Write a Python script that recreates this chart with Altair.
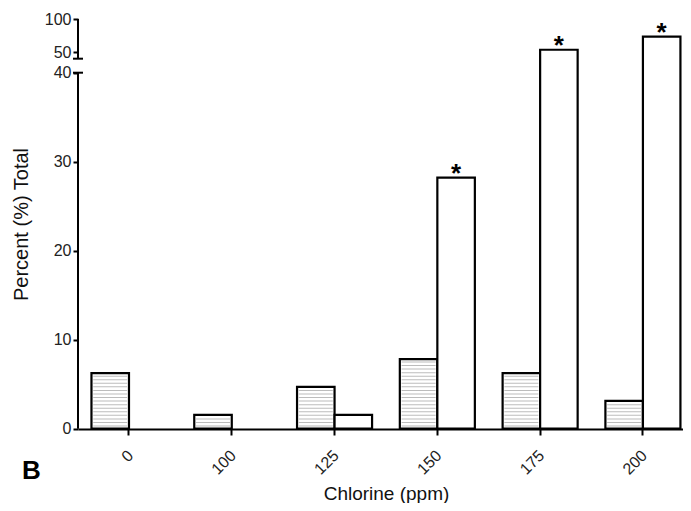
import altair as alt
import pandas as pd

# ---- data ----
chlorine = ["0", "100", "125", "150", "175", "200"]
series_names = ["Hatched", "Open"]
hatched_values = [6.25, 1.56, 4.69, 7.81, 6.25, 3.13]
open_values = [0.0, 0.0, 1.56, 28.2, 54.0, 73.5]
open_marks = ["", "", "", "*", "*", "*"]
y_tick_values = [0, 10, 20, 30, 40, 50, 100]
axis_low = [0, 40]          # lower y-axis segment
axis_high = [46.9, 100]     # upper y-axis segment (after the break)
panel_label = ["B"]

rows = []
for c, h, o, m in zip(chlorine, hatched_values, open_values, open_marks):
    rows.append({"chlorine": c, "series": series_names[0], "value": h, "mark": ""})
    rows.append({"chlorine": c, "series": series_names[1], "value": o, "mark": m})
df = pd.DataFrame(rows)

axis_df = pd.DataFrame({"y": [axis_low[0], axis_high[0]], "y2": [axis_low[1], axis_high[1]]})
cap_df = pd.DataFrame({"y": [axis_low[1], axis_high[0]]})
label_df = pd.DataFrame({"label": panel_label})

W, H = 605, 410
FONT = "Liberation Sans"

# broken (piecewise) y scale: 0-40 lower part, 50-100 compressed upper part
y_scale = alt.Scale(domain=[0, 40, 50, 100], range=[409.7, 53.7, 33.4, 0], zero=False, nice=False)
x_scale = alt.Scale(domain=chlorine, paddingInner=0.27, paddingOuter=0.078, align=0.84)
off_scale = alt.Scale(domain=series_names, paddingInner=0, paddingOuter=0)

x_axis = alt.Axis(
    labelAngle=-45, labelFontSize=16, labelColor="#222", labelPadding=12, labelOffset=-4,
    tickSize=6, tickWidth=2, tickColor="black",
    domainColor="black", domainWidth=2, grid=False,
    title="Chlorine (ppm)", titleFontSize=19, titleFontWeight="normal",
    titleColor="#111", titleX=308, titleAlign="center", titleY=70, titleBaseline="alphabetic",
)
y_axis = alt.Axis(
    values=y_tick_values, domain=False, grid=False,
    tickSize=5, tickWidth=2, tickColor="black",
    labelFontSize=16, labelColor="#222", labelPadding=2,
    title="Percent (%) Total", titleFontSize=20, titleFontWeight="normal",
    titleColor="#111", titleX=-57, titleY=205, titleAngle=270,
    titleAlign="center", titleBaseline="middle",
)

def xe():
    return alt.X("chlorine:N", sort=chlorine, scale=x_scale, axis=x_axis)

def ye(field):
    return alt.Y(field, scale=y_scale, axis=y_axis)

xoff = alt.XOffset("series:N", sort=series_names, scale=off_scale)

bars = alt.Chart(df).transform_filter("datum.value > 0").mark_bar(
    fill="white", stroke="black", strokeWidth=2.2
).encode(x=xe(), xOffset=xoff, y=ye("value:Q"))

stripes = alt.Chart(df).transform_filter(
    f"datum.series == '{series_names[0]}'"
).transform_calculate(
    stripe="sequence(0.3, datum.value - 0.15, 0.4)"
).transform_flatten(["stripe"]).mark_tick(
    color="#a0a0a0", thickness=1, size=34
).encode(x=xe(), xOffset=xoff, y=ye("stripe:Q"))

stars = alt.Chart(df).transform_filter("datum.mark != ''").mark_text(
    fontSize=26, fontWeight="bold", baseline="alphabetic", dy=4, color="black"
).encode(x=xe(), xOffset=xoff, y=ye("value:Q"), text="mark:N")

axis_line = alt.Chart(axis_df).mark_rule(color="black", strokeWidth=2).encode(
    x=alt.value(0), y=ye("y:Q"), y2="y2:Q",
)

caps = alt.Chart(cap_df).mark_rule(color="black", strokeWidth=2).encode(
    x=alt.value(-5), x2=alt.value(5), y=ye("y:Q"),
)

letter = alt.Chart(label_df).mark_text(
    fontSize=26, fontWeight="bold", align="left", baseline="alphabetic", color="black"
).encode(x=alt.value(-56), y=alt.value(460), text="label:N")

chart = alt.layer(bars, stripes, axis_line, caps, stars, letter).properties(
    width=W, height=H,
    padding={"left": 70, "top": 11, "right": 0, "bottom": 74},
    autosize=alt.AutoSizeParams(type="none"),
).configure(font=FONT).configure_view(stroke="transparent")

chart.save("out.html", embed_options={"renderer": "svg", "actions": False})
